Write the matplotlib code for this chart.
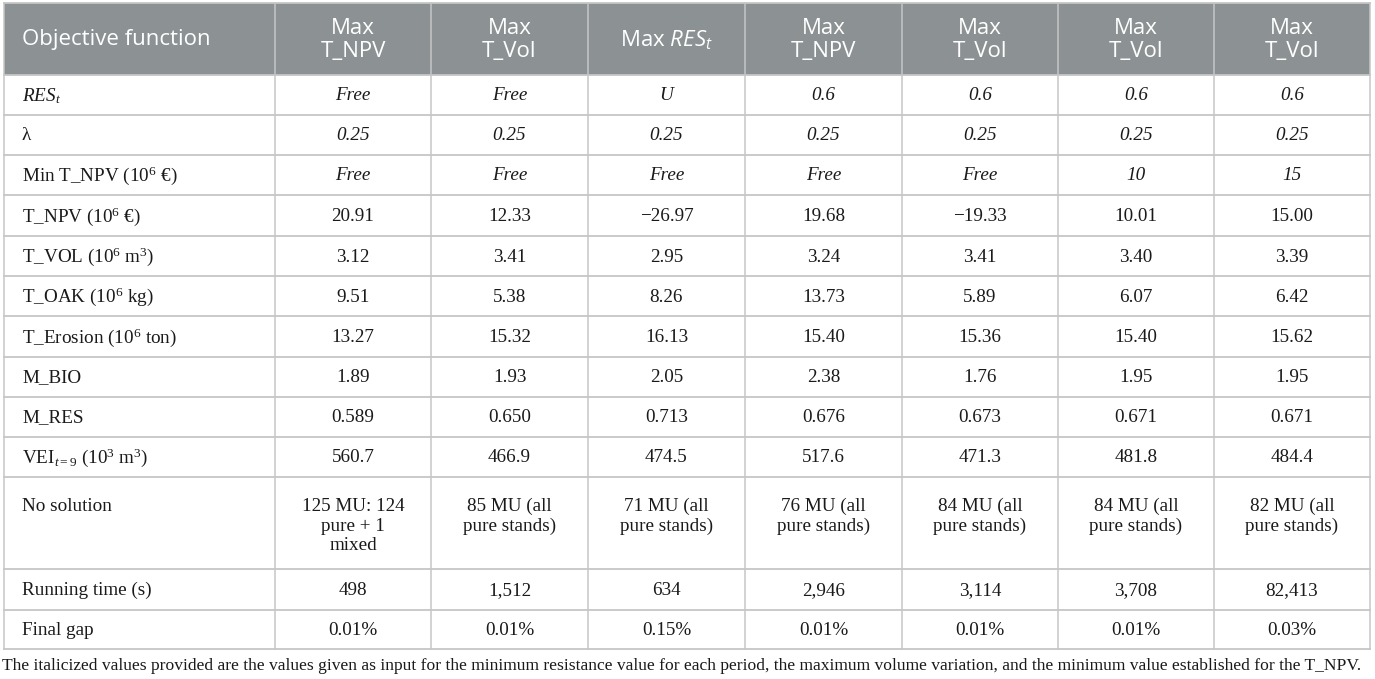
import matplotlib
matplotlib.use("Agg")
import matplotlib.pyplot as plt

plt.rcParams['mathtext.fontset'] = 'custom'
plt.rcParams['mathtext.rm'] = 'Liberation Serif'
plt.rcParams['mathtext.it'] = 'Liberation Serif:italic'
plt.rcParams['mathtext.sf'] = 'Open Sans:italic'

# table content
header_first = "Objective function"
headers = ["Max\nT_NPV", "Max\nT_Vol", r"Max $\mathsf{RES_t}$", "Max\nT_NPV",
           "Max\nT_Vol", "Max\nT_Vol", "Max\nT_Vol"]

row_labels = [
    r"$RES_t$",
    "λ",
    r"Min T_NPV ($10^{6}$ €)",
    r"T_NPV ($10^{6}$ €)",
    r"T_VOL ($10^{6}\ \mathrm{m}^{3}$)",
    r"T_OAK ($10^{6}$ kg)",
    r"T_Erosion ($10^{6}$ ton)",
    "M_BIO",
    "M_RES",
    r"$\mathrm{VEI}_{t=9}$ ($10^{3}\ \mathrm{m}^{3}$)",
    "No solution",
    "Running time (s)",
    "Final gap",
]

res_t = ["Free", "Free", "U", "0.6", "0.6", "0.6", "0.6"]
lam = ["0.25", "0.25", "0.25", "0.25", "0.25", "0.25", "0.25"]
min_npv = ["Free", "Free", "Free", "Free", "Free", "10", "15"]
t_npv = ["20.91", "12.33", "\u221226.97", "19.68", "\u221219.33", "10.01", "15.00"]
t_vol = ["3.12", "3.41", "2.95", "3.24", "3.41", "3.40", "3.39"]
t_oak = ["9.51", "5.38", "8.26", "13.73", "5.89", "6.07", "6.42"]
t_erosion = ["13.27", "15.32", "16.13", "15.40", "15.36", "15.40", "15.62"]
m_bio = ["1.89", "1.93", "2.05", "2.38", "1.76", "1.95", "1.95"]
m_res = ["0.589", "0.650", "0.713", "0.676", "0.673", "0.671", "0.671"]
vei = ["560.7", "466.9", "474.5", "517.6", "471.3", "481.8", "484.4"]
no_solution = ["125 MU: 124\npure + 1\nmixed", "85 MU (all\npure stands)",
               "71 MU (all\npure stands)", "76 MU (all\npure stands)",
               "84 MU (all\npure stands)", "84 MU (all\npure stands)",
               "82 MU (all\npure stands)"]
running_time = ["498", "1,512", "634", "2,946", "3,114", "3,708", "82,413"]
final_gap = ["0.01%", "0.01%", "0.15%", "0.01%", "0.01%", "0.01%", "0.03%"]

rows = [res_t, lam, min_npv, t_npv, t_vol, t_oak, t_erosion, m_bio, m_res,
        vei, no_solution, running_time, final_gap]
italic_rows = [0, 1, 2]

caption = ("The italicized values provided are the values given as input for the "
           "minimum resistance value for each period, the maximum volume variation, "
           "and the minimum value established for the T_NPV.")

# layout in pixels
W, H = 1375, 679
col_edges = [4, 275, 431, 588, 745, 902, 1058, 1214, 1370]
row_edges = [3, 75, 115, 155, 195, 236, 276, 316, 357, 397, 437, 477, 569, 610, 649]

header_bg = "#8c9293"
grid_col = "#c6c6c6"
body_font = "Liberation Serif"
head_font = "Open Sans"
body_size = 13.8

fig = plt.figure(figsize=(W / 100, H / 100), dpi=100)
ax = fig.add_axes([0, 0, 1, 1])
ax.set_xlim(0, W)
ax.set_ylim(H, 0)
ax.axis("off")

# header background
ax.fill_between([col_edges[0], col_edges[-1]], row_edges[0], row_edges[1],
                color=header_bg, linewidth=0)

# grid lines
for y in row_edges:
    ax.plot([col_edges[0], col_edges[-1]], [y, y], color=grid_col, lw=1.3)
for x in col_edges:
    ax.plot([x, x], [row_edges[0], row_edges[-1]], color=grid_col, lw=1.1)

# header text
hy = (row_edges[0] + row_edges[1]) / 2 + 1
ax.text(col_edges[0] + 18, hy, header_first, color="white", fontsize=16,
        family=head_font, ha="left", va="center")
for j, h in enumerate(headers):
    cx = (col_edges[j + 1] + col_edges[j + 2]) / 2
    ax.text(cx, hy, h, color="white", fontsize=16, family=head_font,
            ha="center", va="center", linespacing=1.1, multialignment="center")

# body
for i, (label, vals) in enumerate(zip(row_labels, rows)):
    top, bot = row_edges[i + 1], row_edges[i + 2]
    multi = any("\n" in v for v in vals)
    if multi:
        y, va = top + 21, "top"
    else:
        y, va = (top + bot) / 2 + 1, "center"
    ax.text(col_edges[0] + 18, y, label, fontsize=body_size, family=body_font,
            ha="left", va=va, color="#1a1a1a")
    style = "italic" if i in italic_rows else "normal"
    for j, v in enumerate(vals):
        cx = (col_edges[j + 1] + col_edges[j + 2]) / 2
        ax.text(cx, y, v, fontsize=body_size, family=body_font, style=style,
                ha="center", va=va, linespacing=1.2, multialignment="center",
                color="#1a1a1a")

ax.text(2, 666, caption, fontsize=12.6, family=body_font, ha="left", va="center",
        color="#1a1a1a")

fig.savefig("out.png", dpi=100)
